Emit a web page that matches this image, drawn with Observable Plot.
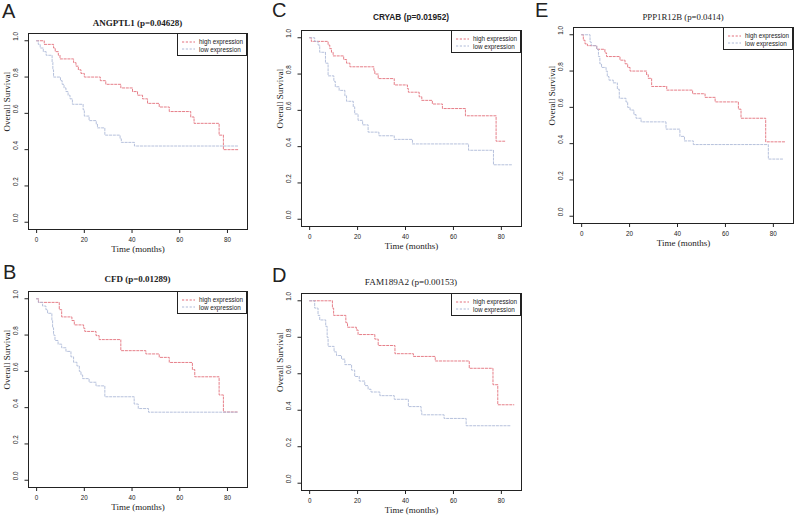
<!DOCTYPE html>
<html><head><meta charset="utf-8">
<script src="https://cdn.jsdelivr.net/npm/d3@7"></script>
<script src="https://cdn.jsdelivr.net/npm/@observablehq/plot@0.6"></script>
<style>
body{margin:0;background:#fff;}
#root{position:relative;width:795px;height:515px;overflow:hidden;background:#fff;font-family:"Liberation Sans",Arial,sans-serif;color:#222;}
.abs{position:absolute;white-space:nowrap;}
</style></head><body><div id="root"></div>
<script>
// ---------- data ----------
const panelLetters = ["A", "B", "C", "D", "E"];
const genes = ["ANGPTL1", "CFD", "CRYAB", "FAM189A2", "PPP1R12B"];
const pValues = ["0.04628", "0.01289", "0.01952", "0.00153", "0.0414"];
const seriesNames = ["high expression", "low expression"];
const xTicks = [0, 20, 40, 60, 80];
const yTicks = [0, 0.2, 0.4, 0.6, 0.8, 1.0];
const xLabel = "Time (months)";
const yLabel = "Overall Survival";

const aHighT = [0,3.2,7.1,7.8,9.1,9.8,15.5,16.5,17.5,18.6,20,26.7,29,35.3,40.2,42.3,44.4,46.5,51.4,55.6,64.6,66,76.5,78.3,84.5];
const aHighS = [1,0.98,0.96,0.94,0.92,0.9,0.88,0.86,0.84,0.82,0.8,0.78,0.76,0.74,0.72,0.7,0.68,0.655,0.635,0.61,0.58,0.545,0.48,0.4,0.4];
const aLowT  = [0,0.7,1.5,2.8,4,6.5,6.8,7.1,10,10.7,11.5,12.3,13.2,14,15,19.5,20,22,25,25.5,28.6,35,35.5,41,84.5];
const aLowS  = [1,0.98,0.96,0.94,0.92,0.88,0.84,0.8,0.78,0.76,0.74,0.72,0.7,0.68,0.65,0.62,0.585,0.56,0.54,0.52,0.48,0.46,0.44,0.42,0.42];

const bHighT = [0,0.8,9.5,10.5,14.8,15.8,19.7,20.2,24.9,26.2,35.3,45.8,51.4,55.6,65.3,66.3,76.5,78.3,84.5];
const bHighS = [1,0.98,0.94,0.9,0.88,0.856,0.838,0.82,0.797,0.775,0.714,0.696,0.677,0.649,0.61,0.57,0.47,0.376,0.376];
const bLowT  = [0,0.7,2.5,3.9,4.6,6.4,6.7,7.1,7.7,9,10.5,12.3,14.4,15.5,16.9,17.9,18.6,19.3,22,24.9,28.6,40.9,42.6,46.9,84.5];
const bLowS  = [1,0.98,0.96,0.94,0.92,0.88,0.84,0.8,0.77,0.75,0.73,0.71,0.68,0.65,0.63,0.6,0.58,0.56,0.54,0.52,0.46,0.42,0.395,0.375,0.375];

const cHighT = [0,0.7,7.7,8.4,9.1,9.8,14.2,15.4,16.8,26.8,27.2,28.6,35.3,40.8,41.2,45.7,46.8,51.2,55.4,65,77.8,81.4];
const cHighS = [1,0.98,0.96,0.94,0.92,0.9,0.88,0.86,0.84,0.82,0.8,0.775,0.74,0.72,0.7,0.675,0.655,0.635,0.61,0.57,0.43,0.43];
const cLowT  = [0,2.1,3.5,4.2,6.6,7.7,10.1,10.7,12.3,14.7,15.4,18.2,18.8,20.2,22.1,24.4,28.9,35.3,42.9,66.3,76.7,84.2];
const cLowS  = [1,0.98,0.96,0.92,0.86,0.79,0.76,0.73,0.71,0.68,0.65,0.62,0.58,0.545,0.52,0.48,0.46,0.44,0.415,0.38,0.3,0.3];

const dHighT = [0,9.5,10,15.1,15.8,19.5,20.2,27.2,28.6,35.6,43.3,52.4,66.6,76.5,78.5,85.2];
const dHighS = [1,0.96,0.92,0.88,0.855,0.84,0.815,0.79,0.755,0.71,0.695,0.67,0.63,0.54,0.43,0.43];
const dLowT  = [0,2.1,3.5,4.2,6.7,7.3,7.7,10.2,11.2,13.3,14.7,17.5,18.8,20.7,23,24.4,25.6,29.3,35.3,41.2,46.5,46.8,56.1,65.3,84.2];
const dLowS  = [1,0.96,0.92,0.895,0.86,0.8,0.75,0.72,0.7,0.68,0.65,0.62,0.585,0.56,0.535,0.515,0.5,0.48,0.46,0.42,0.395,0.375,0.355,0.315,0.315];

const eHighT = [0,0.7,1.4,2.4,6.3,9.7,10.4,16,18.1,19.2,20.2,27.1,27.8,29.2,35.5,46.3,51.5,55.7,65.4,66.5,76.8,84.9];
const eHighS = [1,0.97,0.95,0.94,0.92,0.9,0.88,0.86,0.84,0.82,0.8,0.78,0.76,0.715,0.695,0.675,0.655,0.63,0.59,0.54,0.41,0.41];
const eLowT  = [0,3.5,4,6.3,7,7.6,8.3,10.2,10.7,11.4,13.2,14.9,15.7,18.5,19.2,20.2,21.8,22.7,24.8,35.2,41,42.9,46.6,77.9,84.2];
const eLowS  = [1,0.96,0.94,0.92,0.88,0.84,0.82,0.8,0.77,0.75,0.735,0.7,0.65,0.63,0.6,0.585,0.56,0.54,0.52,0.48,0.44,0.415,0.395,0.315,0.315];

const highTimes = [aHighT, bHighT, cHighT, dHighT, eHighT];
const highSurv  = [aHighS, bHighS, cHighS, dHighS, eHighS];
const lowTimes  = [aLowT, bLowT, cLowT, dLowT, eLowT];
const lowSurv   = [aLowS, bLowS, cLowS, dLowS, eLowS];

// ---------- layout / style ----------
const colors = ["#e3707c", "#aebad8"];
const SERIF = "'Liberation Serif','Times New Roman',serif";
const SANS = "'Liberation Sans',Arial,sans-serif";
const layout = [
  {box:[28,33,219,196],  titleY:23,  titleFont:SERIF, titleWeight:"bold",   titleSize:9,   letter:[2,1.4]},
  {box:[28,291,219,196], titleY:279, titleFont:SERIF, titleWeight:"bold",   titleSize:9,   letter:[3,262.4]},
  {box:[301,30,220,196], titleY:17,  titleFont:SANS,  titleWeight:"bold",   titleSize:8.3, letter:[272,0.4]},
  {box:[301,293,220,197],titleY:283, titleFont:SERIF, titleWeight:"normal", titleSize:9.2, letter:[272,265.4]},
  {box:[573,27,220,196], titleY:17,  titleFont:SERIF, titleWeight:"normal", titleSize:8.8, letter:[535,0.4]}
];
const ML = 30, MR = 2, MT = 2, MB = 30;

const root = document.getElementById("root");

function addDiv(css, text) {
  const d = document.createElement("div");
  d.className = "abs";
  Object.assign(d.style, css);
  if (text != null) d.textContent = text;
  root.appendChild(d);
  return d;
}

panelLetters.forEach((letter, i) => {
  const L = layout[i];
  const [bx, by, bw, bh] = L.box;
  const rows = [];
  highTimes[i].forEach((t, j) => rows.push({t, s: highSurv[i][j], series: seriesNames[0]}));
  lowTimes[i].forEach((t, j) => rows.push({t, s: lowSurv[i][j], series: seriesNames[1]}));

  const chart = Plot.plot({
    width: ML + bw + MR,
    height: MT + bh + MB,
    marginLeft: ML, marginRight: MR, marginTop: MT, marginBottom: MB,
    style: {fontFamily: SANS, color: "#222", background: "transparent", overflow: "visible"},
    x: {domain: [-3.4, 88.4]},
    y: {domain: [-0.04, 1.04]},
    color: {domain: seriesNames, range: colors},
    marks: [
      Plot.line(rows, {x: "t", y: "s", z: "series", stroke: "series", curve: "step-after",
        strokeWidth: 0.9, strokeDasharray: "2.2,1.6"}),
      Plot.frame({stroke: "#222", strokeWidth: 1}),
      Plot.axisX({ticks: xTicks, tickSize: 4, tickPadding: 4.5, fontSize: 6.3, label: null}),
      Plot.axisY({ticks: yTicks, tickSize: 3.5, tickFormat: () => "", label: null}),
      Plot.text(yTicks, {y: d => d, text: d => d.toFixed(1), frameAnchor: "left", dx: -12.5,
        rotate: -90, fontSize: 6.3}),
      Plot.text([xLabel], {frameAnchor: "bottom", dy: 22.5, fontFamily: SERIF, fontSize: 9}),
      Plot.text([yLabel], {frameAnchor: "left", dx: -21, rotate: -90, fontFamily: SERIF, fontSize: 9})
    ]
  });
  chart.style.position = "absolute";
  chart.style.left = (bx - ML) + "px";
  chart.style.top = (by - MT) + "px";
  root.appendChild(chart);

  // panel letter
  addDiv({left: L.letter[0] + "px", top: L.letter[1] + "px", fontFamily: SANS, fontSize: "20px", lineHeight: "20px"}, letter);
  // title
  addDiv({left: bx + "px", width: bw + "px", top: (L.titleY - L.titleSize / 2) + "px", textAlign: "center",
    fontFamily: L.titleFont, fontWeight: L.titleWeight, fontSize: L.titleSize + "px", lineHeight: L.titleSize + "px"},
    genes[i] + " (p=" + pValues[i] + ")");
  // legend
  const lg = addDiv({left: (bx + bw - 70) + "px", top: by + "px", width: "70px", height: "23px",
    boxSizing: "border-box", border: "1px solid #222", background: "#fff"});
  seriesNames.forEach((name, k) => {
    const cy = 7.5 + k * 7.6;
    const ns = "http://www.w3.org/2000/svg";
    const svg = document.createElementNS(ns, "svg");
    svg.setAttribute("width", "14"); svg.setAttribute("height", "4");
    Object.assign(svg.style, {position: "absolute", left: "4px", top: (cy - 2) + "px"});
    const ln = document.createElementNS(ns, "line");
    ln.setAttribute("x1", "0"); ln.setAttribute("x2", "13"); ln.setAttribute("y1", "2"); ln.setAttribute("y2", "2");
    ln.setAttribute("stroke", colors[k]); ln.setAttribute("stroke-width", "1"); ln.setAttribute("stroke-dasharray", "2.2,1.6");
    svg.appendChild(ln);
    lg.appendChild(svg);
    const tx = document.createElement("div");
    tx.className = "abs";
    Object.assign(tx.style, {left: "21px", top: (cy - 3.5) + "px", fontSize: "6.3px", lineHeight: "7px", fontFamily: SANS});
    tx.textContent = name;
    lg.appendChild(tx);
  });
});
</script>
</body></html>
